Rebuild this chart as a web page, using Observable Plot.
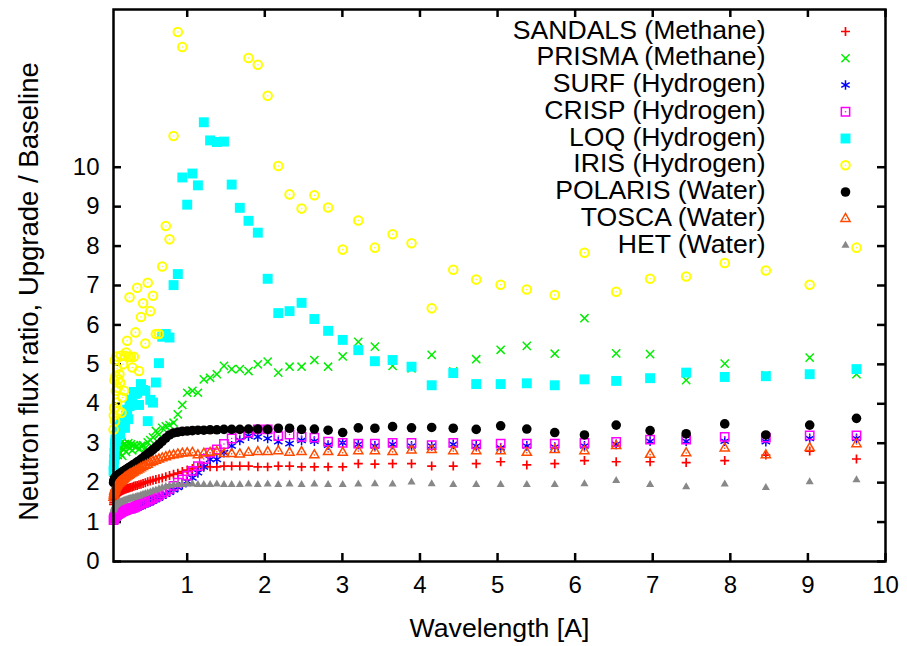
<!DOCTYPE html>
<html><head><meta charset="utf-8">
<script src="https://cdn.jsdelivr.net/npm/d3@7"></script>
<script src="https://cdn.jsdelivr.net/npm/@observablehq/plot@0.6"></script>
<style>body{margin:0;background:#fff} svg{display:block}</style>
</head><body><div id="chart"></div>
<script>
// Wavelength grid [A]
const wavelength = [
 0.051,0.054,0.058,0.062,0.066,0.070,0.075,0.080,0.086,0.091,
 0.097,0.104,0.111,0.118,0.126,0.135,0.144,0.153,0.163,0.174,
 0.186,0.198,0.212,0.226,0.241,0.257,0.274,0.292,0.312,0.333,
 0.355,0.379,0.404,0.431,0.460,0.491,0.524,0.559,0.596,0.636,
 0.678,0.724,0.772,0.824,0.879,0.937,1.000,1.067,1.138,1.214,
 1.295,1.382,1.474,1.573,1.678,1.790,1.910,2.037,2.174,2.319,
 2.474,2.639,2.816,3.004,3.205,3.419,3.647,3.891,4.151,4.429,
 4.725,5.040,5.377,5.737,6.120,6.529,6.966,7.431,7.928,8.458,
 9.023,9.626];

const sandals = [
 1.45,1.50,1.55,1.58,1.61,1.63,1.65,1.67,1.69,1.70,
 1.72,1.73,1.74,1.75,1.76,1.77,1.78,1.79,1.80,1.81,
 1.82,1.83,1.84,1.85,1.86,1.87,1.88,1.89,1.91,1.92,
 1.93,1.95,1.96,1.98,2.00,2.02,2.04,2.06,2.08,2.10,
 2.12,2.15,2.18,2.21,2.24,2.28,2.32,2.36,2.40,2.42,
 2.40,2.40,2.42,2.42,2.42,2.42,2.40,2.40,2.42,2.42,
 2.40,2.40,2.40,2.40,2.48,2.47,2.48,2.48,2.42,2.42,
 2.48,2.53,2.45,2.48,2.56,2.53,2.53,2.51,2.56,2.70,
 2.80,2.60];

const prisma = [
 2.25,2.40,2.55,2.62,2.70,2.75,2.80,2.72,2.85,2.78,
 2.88,2.70,2.92,2.80,2.97,2.75,2.90,3.02,2.68,2.95,
 2.85,2.98,2.78,2.93,3.00,2.88,2.97,2.82,2.95,2.90,
 2.93,2.85,2.93,2.95,2.88,3.02,3.08,3.15,3.31,3.22,
 3.39,3.43,3.46,3.52,3.73,3.97,4.28,4.33,4.28,4.62,
 4.66,4.75,4.96,4.88,4.88,4.83,5.00,5.07,4.79,4.94,
 4.94,5.11,4.94,5.20,5.57,5.45,4.96,4.90,5.24,4.82,
 5.13,5.37,5.47,5.27,6.17,5.28,5.26,4.60,5.02,4.72,
 5.17,4.75];

const surf = [
 1.12,1.13,1.14,1.15,1.15,1.16,1.16,1.17,1.17,1.18,
 1.18,1.19,1.19,1.20,1.20,1.21,1.22,1.23,1.24,1.25,
 1.26,1.27,1.28,1.29,1.30,1.31,1.32,1.33,1.34,1.35,
 1.37,1.39,1.41,1.43,1.45,1.48,1.51,1.54,1.58,1.62,
 1.66,1.71,1.76,1.82,1.88,1.95,2.03,2.12,2.25,2.40,
 2.59,2.59,2.76,2.93,3.07,3.18,3.16,3.12,3.04,2.99,
 3.07,3.05,2.95,3.01,2.97,2.93,2.97,2.93,2.93,2.97,
 2.93,2.88,2.93,2.90,2.93,2.97,3.05,3.05,3.05,3.04,
 3.12,3.12];

const crisp = [
 1.05,1.08,1.10,1.12,1.13,1.14,1.15,1.16,1.17,1.18,
 1.19,1.20,1.21,1.22,1.23,1.24,1.25,1.26,1.27,1.28,
 1.29,1.30,1.31,1.32,1.33,1.34,1.35,1.36,1.37,1.39,
 1.41,1.44,1.46,1.48,1.51,1.54,1.57,1.60,1.64,1.68,
 1.73,1.78,1.84,1.92,2.00,2.08,2.18,2.30,2.42,2.60,
 2.76,2.84,2.98,3.12,3.20,3.27,3.35,3.35,3.18,3.22,
 3.16,3.14,3.04,3.01,2.99,2.99,3.01,3.01,2.95,3.01,
 2.97,2.99,2.99,2.99,3.01,3.03,3.09,3.09,3.16,3.14,
 3.20,3.20];

const loq = [
 2.30,2.45,2.60,2.75,2.90,3.00,3.10,3.05,3.20,3.15,
 3.30,3.25,3.40,3.30,3.45,3.22,3.50,3.40,3.60,3.45,
 3.55,3.39,3.70,3.85,3.61,3.94,4.10,4.00,4.30,4.25,
 4.28,3.97,4.50,4.35,4.33,3.56,4.10,4.03,4.54,5.03,
 5.70,5.77,5.68,7.01,7.29,9.74,9.05,9.84,9.54,11.14,
 10.68,10.64,10.65,9.56,8.97,8.64,8.34,7.17,6.30,6.35,
 6.56,6.15,5.85,5.62,5.36,5.08,5.11,4.94,4.47,4.78,
 4.50,4.50,4.52,4.47,4.62,4.58,4.65,4.79,4.68,4.70,
 4.75,4.88];

const iris = [
 3.35,3.70,3.90,4.60,5.10,3.56,4.70,4.33,5.20,4.03,
 4.90,4.40,4.62,3.82,4.75,4.54,5.22,3.77,4.16,5.00,
 4.33,5.22,5.30,5.60,5.19,6.70,5.19,4.92,5.19,5.81,
 6.94,4.83,6.20,6.55,5.53,7.07,6.35,6.74,5.77,5.77,
 7.48,8.51,8.17,10.79,13.43,13.05,null,null,null,null,
 null,null,null,null,null,12.77,12.60,11.81,10.03,9.31,
 8.95,9.29,8.98,7.91,8.65,7.96,8.30,8.07,6.42,7.40,
 7.15,7.02,6.90,6.76,7.83,6.84,7.17,7.23,7.57,7.38,
 7.02,7.96];

const polaris = [
 2.00,2.03,2.06,2.08,2.10,2.12,2.13,2.14,2.15,2.16,
 2.17,2.18,2.19,2.20,2.21,2.23,2.24,2.25,2.27,2.28,
 2.30,2.31,2.33,2.35,2.37,2.39,2.41,2.44,2.46,2.49,
 2.52,2.55,2.59,2.63,2.68,2.73,2.78,2.84,2.90,2.97,
 3.05,3.13,3.21,3.26,3.28,3.30,3.31,3.32,3.33,3.33,
 3.34,3.34,3.35,3.35,3.35,3.36,3.36,3.35,3.38,3.38,
 3.35,3.36,3.33,3.27,3.39,3.38,3.42,3.39,3.40,3.38,
 3.35,3.44,3.36,3.27,3.21,3.46,3.32,3.24,3.49,3.21,
 3.46,3.63];

const tosca = [
 1.62,1.68,1.73,1.77,1.80,1.83,1.86,1.88,1.90,1.92,
 1.94,1.96,1.97,1.99,2.00,2.02,2.03,2.05,2.06,2.08,
 2.10,2.12,2.14,2.16,2.18,2.20,2.22,2.24,2.26,2.29,
 2.31,2.34,2.37,2.40,2.43,2.46,2.50,2.53,2.56,2.59,
 2.62,2.65,2.68,2.70,2.72,2.74,2.75,2.76,2.70,2.74,
 2.76,2.78,2.73,2.73,2.72,2.76,2.78,2.78,2.80,2.76,
 2.78,2.70,2.78,2.76,2.80,2.80,2.78,2.82,2.83,2.80,
 2.80,2.80,2.76,2.83,2.80,2.93,2.71,2.75,2.87,2.70,
 2.88,2.98];

const het = [
 1.30,1.33,1.36,1.38,1.40,1.41,1.42,1.43,1.44,1.45,
 1.46,1.47,1.48,1.48,1.49,1.50,1.51,1.51,1.52,1.53,
 1.54,1.55,1.56,1.57,1.58,1.59,1.60,1.61,1.62,1.63,
 1.65,1.66,1.68,1.70,1.72,1.74,1.76,1.79,1.81,1.84,
 1.87,1.90,1.92,1.94,1.95,1.95,1.96,1.96,1.95,1.95,
 1.95,1.96,1.95,1.95,1.95,1.96,1.95,1.96,1.95,1.96,
 1.95,1.96,1.95,1.95,1.96,1.97,1.96,2.01,1.97,1.95,
 1.95,1.95,1.95,1.95,1.97,2.05,1.95,1.89,1.96,1.87,
 2.02,2.07];

const seriesNames = [
 "SANDALS (Methane)","PRISMA (Methane)","SURF (Hydrogen)","CRISP (Hydrogen)",
 "LOQ (Hydrogen)","IRIS (Hydrogen)","POLARIS (Water)","TOSCA (Water)","HET (Water)"];
const xTicks = [1,2,3,4,5,6,7,8,9,10];
const yTicks = [0,1,2,3,4,5,6,7,8,9,10];
const xLabel = "Wavelength [A]";
const yLabel = "Neutron flux ratio, Upgrade / Baseline";

const seriesValues = [sandals, prisma, surf, crisp, loq, iris, polaris, tosca, het];
const styles = [
 {symbol:"plus",     stroke:"#ff0000", fill:"none",    r:3.0, sw:1.7},
 {symbol:"times",    stroke:"#00ee00", fill:"none",    r:3.8, sw:1.5},
 {symbol:"asterisk", stroke:"#0000ff", fill:"none",    r:4.6, sw:1.5},
 {symbol:"square",   stroke:"#ff00ff", fill:"none",    r:4.7, sw:1.5, center:true},
 {symbol:"square",   stroke:"none",    fill:"#00ffff", r:5.6, sw:0},
 {symbol:"circle",   stroke:"#ffff00", fill:"none",    r:4.3, sw:2,   center:true},
 {symbol:"circle",   stroke:"none",    fill:"#000000", r:4.8, sw:0},
 {symbol:"triangle", stroke:"#ff4a00", fill:"none",    r:3.4, sw:1.5, center:true},
 {symbol:"triangle", stroke:"none",    fill:"#888888", r:3.0, sw:0}
];

const W = 907, H = 646, mL = 113, mR = 22, mT = 9, mB = 85;
const innerW = W - mL - mR, innerH = H - mT - mB;
const tickLen = 8;

const marks = [];
// tick marks (inward, mirrored)
marks.push(Plot.tickX(xTicks, {x: d => d, insetTop: innerH - tickLen, strokeWidth: 2.5}));
marks.push(Plot.tickX(xTicks, {x: d => d, insetBottom: innerH - tickLen, strokeWidth: 2.5}));
marks.push(Plot.tickY(yTicks, {y: d => d, insetRight: innerW - tickLen, strokeWidth: 2.5}));
marks.push(Plot.tickY(yTicks, {y: d => d, insetLeft: innerW - tickLen, strokeWidth: 2.5}));

// data
seriesValues.forEach((vals, s) => {
  const st = styles[s];
  const pts = vals.map((v, i) => ({x: wavelength[i], y: v})).filter(d => d.y != null);
  marks.push(Plot.dot(pts, {x: "x", y: "y", symbol: st.symbol, r: st.r, stroke: st.stroke, fill: st.fill, strokeWidth: st.sw}));
  if (st.center) marks.push(Plot.dot(pts, {x: "x", y: "y", r: 0.8, fill: st.stroke, stroke: "none"}));
});

// legend
const rowStep = 26.75;
seriesNames.forEach((name, s) => {
  const st = styles[s];
  marks.push(Plot.text([name], {frameAnchor: "top-right", dx: -120, dy: 20.5 + s * rowStep, textAnchor: "end", lineAnchor: "middle", fontSize: 26.6, fill: "black"}));
  marks.push(Plot.dot([0], {frameAnchor: "top-right", dx: -40, dy: 22 + s * rowStep, symbol: st.symbol, r: st.r, stroke: st.stroke, fill: st.fill, strokeWidth: st.sw}));
  if (st.center) marks.push(Plot.dot([0], {frameAnchor: "top-right", dx: -40, dy: 22 + s * rowStep, r: 0.8, fill: st.stroke}));
});

// axes labels
marks.push(Plot.axisX(xTicks, {tickSize: 0, tickPadding: 14, fontSize: 24, tickFormat: d => d, label: null}));
marks.push(Plot.axisY(yTicks, {tickSize: 0, tickPadding: 14, fontSize: 24, tickFormat: d => d, label: null}));
marks.push(Plot.text([xLabel], {frameAnchor: "bottom", dy: 67, lineAnchor: "middle", textAnchor: "middle", fontSize: 26.7}));
marks.push(Plot.text([yLabel], {frameAnchor: "left", dx: -84, dy: 6, rotate: -90, textAnchor: "middle", lineAnchor: "middle", fontSize: 27.5}));
marks.push(Plot.frame({strokeWidth: 2.5}));

const chart = Plot.plot({
  width: W, height: H,
  marginLeft: mL, marginRight: mR, marginTop: mT, marginBottom: mB,
  x: {domain: [0.05, 10]},
  y: {domain: [0, 14]},
  style: {fontFamily: "'Liberation Sans', Arial, sans-serif", fontSize: "24px", color: "black", background: "white", overflow: "visible"},
  marks
});
document.getElementById("chart").appendChild(chart);
</script>
</body></html>
